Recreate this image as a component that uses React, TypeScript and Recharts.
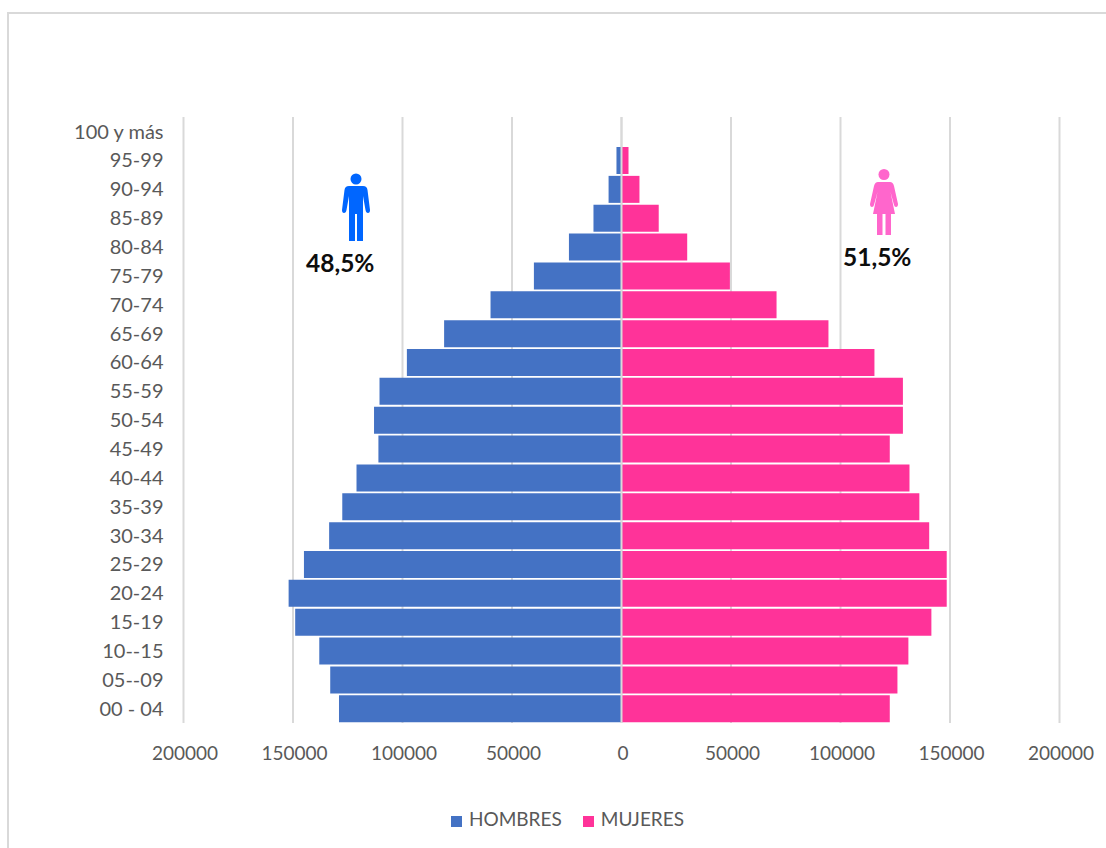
import { BarChart, Bar, XAxis, YAxis, CartesianGrid, Legend, ReferenceLine } from 'recharts'

const ageGroups = [
  '100 y más', '95-99', '90-94', '85-89', '80-84', '75-79', '70-74', '65-69', '60-64', '55-59', '50-54',
  '45-49', '40-44', '35-39', '30-34', '25-29', '20-24', '15-19', '10--15', '05--09', '00 - 04',
]

// men are stored as negative so they grow to the left of zero
const hombres = [
  0, -2300, -5900, -12800, -24000, -40000, -59800, -81000, -98000, -110500, -113000,
  -111000, -121000, -127500, -133500, -145000, -152000, -149000, -138000, -133000, -129000,
]

const mujeres = [
  0, 3200, 8200, 17000, 30000, 49500, 70800, 94500, 115500, 128500, 128500,
  122500, 131500, 136000, 140500, 148500, 148500, 141500, 131000, 126000, 122500,
]

const xTicks = [-200000, -150000, -100000, -50000, 0, 50000, 100000, 150000, 200000]

const data = ageGroups.map((age, i) => ({ age, HOMBRES: hombres[i], MUJERES: mujeres[i] }))

const FONT = 'Lato, sans-serif'

function ManIcon() {
  return (
    <svg width="28" height="70" viewBox="0 0 28 70" style={{ position: 'absolute', left: 342, top: 172 }}>
      <circle cx="14" cy="7" r="5.5" fill="#0066ff" />
      <path
        d="M7 14 H21 Q25 14 25.500 18 L28 38 Q28 41 26 41 Q24 41 23.500 38 L21 24 V69 H15 V42 H13 V69 H7 V24 L4.500 38 Q4 41 2 41 Q0 41 0 38 L2.500 18 Q3 14 7 14 Z"
        fill="#0066ff"
      />
    </svg>
  )
}

function WomanIcon() {
  return (
    <svg width="28" height="68" viewBox="0 0 28 68" style={{ position: 'absolute', left: 870, top: 168 }}>
      <circle cx="14" cy="6.500" r="5.500" fill="#ff66cc" />
      <path
        d="M8 14 H20 Q23 14 24 18 L28 36 Q28 39 26 39 Q24.500 39 24 37 L20.500 24 L25 46 H21 V67 H15.500 V46 H12.500 V67 H7 V46 H3 L7.500 24 L4 37 Q3.500 39 2 39 Q0 39 0 36 L4 18 Q5 14 8 14 Z"
        fill="#ff66cc"
      />
    </svg>
  )
}

const pctStyle = {
  position: 'absolute' as const,
  fontFamily: FONT,
  fontWeight: 700,
  fontSize: 24.5,
  color: '#0d0d0d',
  lineHeight: '28px',
}

export default function App() {
  return (
    <div style={{ position: 'absolute', left: 0, top: 0, width: 1106, height: 848, overflow: 'hidden', background: '#fff' }}>
      {/* outer frame, runs off the bottom and right of the shot */}
      <div
        style={{
          position: 'absolute',
          left: 7,
          top: 12,
          width: 1200,
          height: 900,
          border: '2px solid #d9d9d9',
          boxSizing: 'border-box',
        }}
      />
      <BarChart
        width={1106}
        height={848}
        data={data}
        layout="vertical"
        stackOffset="sign"
        barCategoryGap="4%"
        margin={{ top: 117, right: 46.5, bottom: 72, left: 0 }}
        style={{ position: 'absolute', left: 0, top: 0 }}
      >
        <CartesianGrid vertical horizontal={false} stroke="#d9d9d9" strokeWidth={2} />
        <XAxis
          type="number"
          domain={[-200000, 200000]}
          ticks={xTicks}
          interval={0}
          tickFormatter={(v: number) => String(Math.abs(v))}
          axisLine={false}
          tickLine={false}
          tick={{ fill: '#595959', fontSize: 19, fontFamily: FONT, dx: 1.5 }}
          tickMargin={18}
        />
        <YAxis
          type="category"
          dataKey="age"
          width={183.5}
          interval={0}
          axisLine={false}
          tickLine={false}
          tick={{ fill: '#595959', fontSize: 20, fontFamily: FONT }}
          tickMargin={14}
        />
        <Bar dataKey="HOMBRES" stackId="a" fill="#4472c4" isAnimationActive={false} />
        <Bar dataKey="MUJERES" stackId="a" fill="#ff3399" isAnimationActive={false} />
        <ReferenceLine x={0} stroke="#d9d9d9" strokeWidth={2} />
        <Legend
          verticalAlign="bottom"
          iconType="square"
          iconSize={11}
          wrapperStyle={{ fontFamily: FONT, fontSize: 19, bottom: 18, left: 428, width: 300, textAlign: 'left' }}
          formatter={(value: string) => <span style={{ color: '#595959', marginLeft: 3, marginRight: 11 }}>{value}</span>}
        />
      </BarChart>
      <ManIcon />
      <WomanIcon />
      <div style={{ ...pctStyle, left: 306, top: 249 }}>48,5%</div>
      <div style={{ ...pctStyle, left: 843, top: 243 }}>51,5%</div>
    </div>
  )
}
